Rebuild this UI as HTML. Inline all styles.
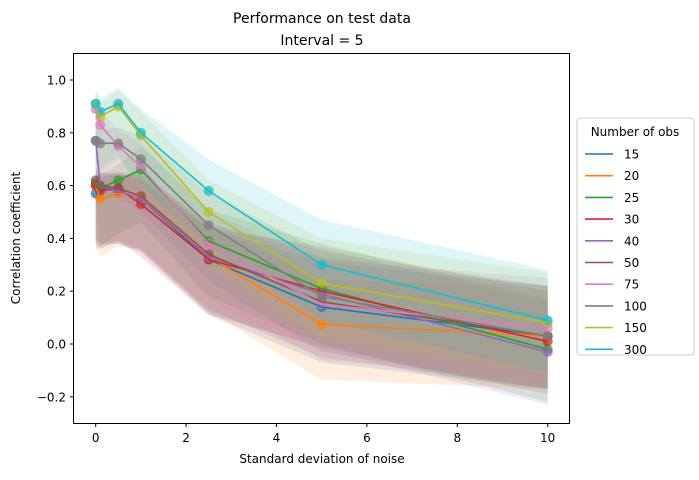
<!DOCTYPE html>
<html><head><meta charset="utf-8"><style>
body{margin:0;background:#fff;font-family:"DejaVu Sans",sans-serif}
svg text{font-family:"DejaVu Sans",sans-serif;fill:#000}
</style></head><body>
<svg id="c" width="699" height="476" xmlns="http://www.w3.org/2000/svg">
<text x="322" y="23" text-anchor="middle" font-size="14">Performance on test data</text>
<text x="322" y="45" text-anchor="middle" font-size="14">Interval = 5</text>
<g id="bands"></g><g id="lines"></g>
<rect x="73.5" y="53.5" width="496" height="370" fill="none" stroke="#000" stroke-width="1"/>
<g id="axes"></g>
<text x="322" y="463" text-anchor="middle" font-size="12">Standard deviation of noise</text>
<text x="20" y="238" text-anchor="middle" font-size="12" transform="rotate(-90 20 238)">Correlation coefficient</text>
<g id="legend">
<rect x="577" y="118" width="117" height="237" rx="3" fill="#fff" stroke="#ccc"/>
<text x="635" y="136" text-anchor="middle" font-size="12">Number of obs</text>
</g>
</svg>
<script>
const xs=[0,0.1,0.5,1,2.5,5,10];
const seriesNames=["15","20","25","30","40","50","75","100","150","300"];
const colors=["#1f77b4","#ff7f0e","#2ca02c","#d62728","#9467bd","#8c564b","#e377c2","#7f7f7f","#bcbd22","#17becf"];
const s15=[0.57,0.59,0.58,0.55,0.32,0.14,0.03];
const s20=[0.60,0.55,0.57,0.56,0.33,0.075,0.03];
const s25=[0.61,0.59,0.62,0.66,0.39,0.21,-0.02];
const s30=[0.60,0.58,0.59,0.53,0.32,0.20,0.01];
const s40=[0.77,0.60,0.58,0.55,0.33,0.19,-0.03];
const s50=[0.62,0.60,0.59,0.56,0.34,0.16,0.03];
const s75=[0.89,0.83,0.75,0.67,0.38,0.15,0.06];
const s100=[0.77,0.76,0.76,0.70,0.45,0.18,0.03];
const s150=[0.91,0.86,0.90,0.79,0.50,0.23,0.08];
const s300=[0.91,0.88,0.91,0.80,0.58,0.30,0.09];
const series=[s15,s20,s25,s30,s40,s50,s75,s100,s150,s300];
const bandLow=[0.22,0.22,0.2,0.2,0.21,0.21,0.2];
const bandHigh=[0.05,0.05,0.06,0.09,0.12,0.17,0.19];
const xTicks=[0,2,4,6,8,10];
const yTicks=[-0.2,0.0,0.2,0.4,0.6,0.8,1.0];
const X=v=>95.7+v*45.2, Y=v=>344-v*264;
const NS="http://www.w3.org/2000/svg";
const mk=(t,a,p)=>{const e=document.createElementNS(NS,t);for(const k in a)e.setAttribute(k,a[k]);p.appendChild(e);return e;};
const B=document.getElementById('bands'),L=document.getElementById('lines'),A=document.getElementById('axes'),G=document.getElementById('legend');
series.forEach((s,i)=>{
 const up=s.map((v,j)=>X(xs[j])+','+Y(v+bandHigh[j]));
 const dn=s.map((v,j)=>X(xs[j])+','+Y(v-bandLow[j])).reverse();
 const b=mk('polygon',{points:up.concat(dn).join(' '),fill:colors[i],'fill-opacity':0.14},B);
 
 
});
series.forEach((s,i)=>{
 s.forEach((v,j)=>{const c=mk('circle',{cx:X(xs[j]),cy:Y(v),r:5,fill:colors[i],'fill-opacity':0.75},L);
 
 });
});
series.forEach((s,i)=>{
 const l=mk('polyline',{points:s.map((v,j)=>X(xs[j])+','+Y(v)).join(' '),fill:'none',stroke:colors[i],'stroke-width':1.6},L);
 
 
});
xTicks.forEach(t=>{mk('line',{x1:X(t),x2:X(t),y1:423.5,y2:427,stroke:'#000'},A);
 const e=mk('text',{x:X(t),y:442,'text-anchor':'middle','font-size':12},A);e.textContent=t;
 
 });
yTicks.forEach(t=>{mk('line',{x1:70,x2:73.5,y1:Y(t),y2:Y(t),stroke:'#000'},A);
 const e=mk('text',{x:66,y:Y(t)+4.5,'text-anchor':'end','font-size':12},A);e.textContent=(t<0?'\u2212':'')+Math.abs(t).toFixed(1);
 
 });
seriesNames.forEach((n,i)=>{const y=154+i*21.7;
 const ln=mk('line',{x1:585,x2:613,y1:y,y2:y,stroke:colors[i],'stroke-width':1.6},G);
 
 
 const e=mk('text',{x:624,y:y+4.5,'font-size':12},G);e.textContent=n;
 
 });
</script>
</body></html>
